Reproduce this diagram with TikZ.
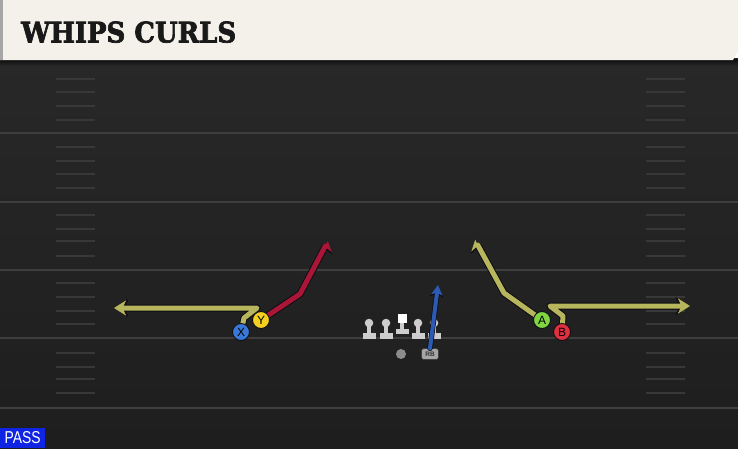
\documentclass[tikz,border=0pt]{standalone}
\usepackage{fontspec}
\setmainfont{Liberation Sans}
\newfontfamily\titlefont{DejaVu Serif}[BoldFeatures={FakeBold=2.5}]
\usetikzlibrary{arrows.meta}
\pgfdeclarelayer{back}
\pgfdeclarelayer{bg}
\pgfsetlayers{back,bg,main}
\definecolor{fieldtop}{RGB}{40,40,40}
\definecolor{fieldbot}{RGB}{30,30,30}
\definecolor{yardcol}{RGB}{62,62,62}
\definecolor{hashcol}{RGB}{56,56,56}
\definecolor{headcol}{RGB}{244,241,234}
\definecolor{olivecol}{RGB}{184,182,92}
\definecolor{redcol}{RGB}{170,22,55}
\definecolor{bluecol}{RGB}{45,90,180}
\definecolor{xcol}{RGB}{58,120,216}
\definecolor{ycol}{RGB}{245,208,32}
\definecolor{acol}{RGB}{128,214,64}
\definecolor{bcol}{RGB}{224,48,64}
\definecolor{passblue}{RGB}{16,36,228}
\definecolor{lmcol}{RGB}{205,205,205}
\definecolor{outl}{RGB}{14,14,20}
\tikzset{
  yard/.style={draw=yardcol, line width=2pt},
  hashmark/.style={draw=hashcol, line width=1.5pt},
  route/.style={draw=#1, line width=5pt, line join=round, line cap=round},
  routeout/.style={draw=outl, line width=7pt, line join=round, line cap=round},
  player/.style={circle, draw=outl, line width=0.9pt, minimum size=17pt, inner sep=0pt, text=black, font=\fontsize{12}{12}\selectfont},
  headtip/.style={-{Stealth[length=12pt,width=15pt,inset=3.5pt,line width=0.4pt]}},
  headtipout/.style={-{Stealth[length=14.5pt,width=18pt,inset=4pt,line width=0.4pt]}},
  harpL/.style={-{Stealth[harpoon,length=8pt,width=17pt,inset=2pt,line width=0.4pt]}},
  harpLout/.style={-{Stealth[harpoon,length=10pt,width=20pt,inset=2.5pt,line width=0.4pt]}},
  harpR/.style={-{Stealth[harpoon,swap,length=8pt,width=17pt,inset=2pt,line width=0.4pt]}},
  harpRout/.style={-{Stealth[harpoon,swap,length=10pt,width=20pt,inset=2.5pt,line width=0.4pt]}},
  lmhead/.style={circle, fill=lmcol, minimum size=8.5pt, inner sep=0pt},
}
\newcommand\lman[2]{%
  \fill[lmcol] (#1-6.5,333) rectangle (#1+6.5,338.5);
  \fill[lmcol] (#1-2.2,323) rectangle (#1+2.2,334);
  \node[lmhead] (#2) at (#1,323) {};
}
\begin{document}
\begin{tikzpicture}[x=1pt,y=-1pt]
\useasboundingbox (0,0) rectangle (738,448);
\begin{pgfonlayer}{back}
% field
\shade[top color=fieldtop, bottom color=fieldbot] (0,58) rectangle (738,448);
\foreach \yy in {65,133,202,270,338,408} {\draw[yard] (0,\yy) -- (738,\yy);}
\foreach \yy in {79,92,106,120,147,161,174,188,215,229,241,256,283,297,311,324,353,367,379,393} {
  \draw[hashmark] (56,\yy) -- (95,\yy);
  \draw[hashmark] (646,\yy) -- (685,\yy);
}
% header
\shade[top color=black!95, bottom color=fieldtop] (0,59) rectangle (738,66);
\fill[headcol] (0,0) -- (738,0) -- (738,51) -- (733,60) -- (0,60) -- cycle;
\fill[black!35] (0,0) rectangle (3,60);
\end{pgfonlayer}
\node[anchor=south west, inner sep=0pt, text=black!90] (title) at (21,43)
  {\resizebox{215pt}{21pt}{\titlefont\bfseries WHIPS CURLS}};
% players
\node[player, fill=xcol] (X) at (241,332) {X};
\node[player, fill=ycol] (Y) at (261,320) {Y};
\node[player, fill=acol] (A) at (542,320) {A};
\node[player, fill=bcol] (B) at (562,332) {B};
% line
\lman{369}{LT}
\lman{386}{LG}
\lman{418}{RG}
\lman{434}{RT}
\fill[lmcol] (395.5,329) rectangle (408.5,333.5);
\fill[lmcol] (399.8,322) rectangle (404.2,330);
\node[fill=white, minimum size=9pt, inner sep=0pt] (C) at (402,318) {};
\node[circle, fill=black!45, minimum size=10pt, inner sep=0pt] (QB) at (401,354) {};
\node[fill=black!35, draw=black!75, line width=0.6pt, rounded corners=2.5pt, minimum width=17pt, minimum height=11pt, inner sep=0pt, text=black!80, font=\bfseries\fontsize{6.5}{6.5}\selectfont] (RB) at (430,354) {RB};
% route end points
\coordinate (x1) at (244,318);
\coordinate (x2) at (257,308);
\coordinate (xe) at (114,308);
\coordinate (y1) at (300,294);
\coordinate (ye) at (328,241);
\coordinate (a1) at (504,293);
\coordinate (ae) at (475,240);
\coordinate (b1) at (563,316);
\coordinate (b2) at (550,306);
\coordinate (be) at (690,306);
\coordinate (re) at (438,285);
\begin{pgfonlayer}{bg}
\draw[routeout, headtipout] (X.center) -- (x1) -- (x2) -- (xe);
\draw[route=olivecol, headtip] (X.center) -- (x1) -- (x2) -- (xe);
\draw[routeout, headtipout] (B.center) -- (b1) -- (b2) -- (be);
\draw[route=olivecol, headtip] (B.center) -- (b1) -- (b2) -- (be);
\draw[routeout, harpRout] (Y.center) -- (y1) -- (ye);
\draw[route=redcol, harpR] (Y.center) -- (y1) -- (ye);
\draw[routeout, harpLout] (A.center) -- (a1) -- (ae);
\draw[route=olivecol, harpL] (A.center) -- (a1) -- (ae);
\end{pgfonlayer}
\draw[routeout, line width=5.5pt, -{Stealth[length=12pt,width=14pt,inset=3pt,line width=0.4pt]}] (RB.north) -- (re);
\draw[route=bluecol, line width=4pt, -{Stealth[length=10pt,width=11.5pt,inset=2.5pt,line width=0.4pt]}] (RB.north) -- (re);
% pass label
\node[fill=passblue, anchor=south west, minimum width=45pt, minimum height=20pt, inner sep=0pt, text=white] (pass) at (0,448)
  {\resizebox{36pt}{12pt}{PASS}};
\end{tikzpicture}
\end{document}
